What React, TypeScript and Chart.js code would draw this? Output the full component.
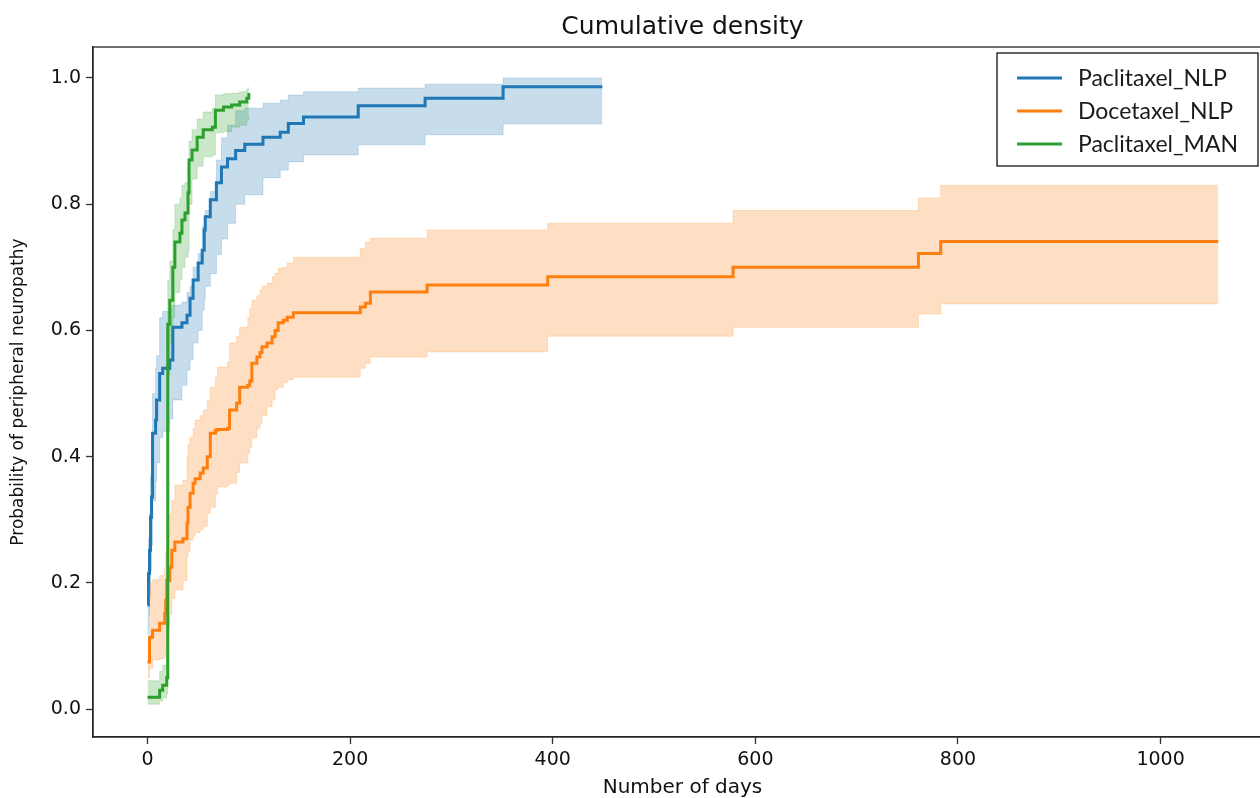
import React, { useEffect, useRef } from "react";
import { Chart, registerables } from "chart.js";

Chart.register(...registerables);

const TITLE = "Cumulative density";
const X_TITLE = "Number of days";
const Y_TITLE = "Probability of peripheral neuropathy";
const X_TICKS = [0, 200, 400, 600, 800, 1000];
const Y_TICKS = [0, 0.2, 0.4, 0.6, 0.8, 1.0];
const SERIES_NAMES = ["Paclitaxel_NLP", "Docetaxel_NLP", "Paclitaxel_MAN"];
const COLORS = ["#1f77b4", "#ff7f0e", "#2ca02c"];

// Paclitaxel_NLP (blue)
const blueDays = [0, 1, 2, 3, 4, 5, 8, 9, 12, 15, 22, 25, 34, 39, 42, 45, 50, 54, 56, 57, 62, 68, 73, 79, 87, 96, 114, 131, 139, 154, 208, 274, 351, 449];
const blueLine = [0.165, 0.215, 0.252, 0.304, 0.336, 0.437, 0.458, 0.49, 0.532, 0.54, 0.553, 0.605, 0.612, 0.624, 0.651, 0.68, 0.707, 0.727, 0.759, 0.78, 0.807, 0.834, 0.859, 0.872, 0.885, 0.895, 0.906, 0.914, 0.928, 0.938, 0.956, 0.968, 0.986, 0.986];
const blueLower = [0.12, 0.15, 0.18, 0.22, 0.26, 0.33, 0.36, 0.39, 0.43, 0.44, 0.46, 0.49, 0.513, 0.537, 0.553, 0.58, 0.6, 0.632, 0.65, 0.67, 0.69, 0.72, 0.745, 0.77, 0.8, 0.815, 0.842, 0.854, 0.867, 0.878, 0.894, 0.91, 0.927, 0.927];
const blueUpper = [0.22, 0.27, 0.31, 0.37, 0.4, 0.5, 0.54, 0.56, 0.62, 0.63, 0.635, 0.64, 0.645, 0.66, 0.67, 0.7, 0.722, 0.764, 0.78, 0.79, 0.82, 0.87, 0.905, 0.925, 0.948, 0.952, 0.96, 0.965, 0.973, 0.978, 0.984, 0.99, 1.0, 1.0];

// Docetaxel_NLP (orange)
const orangeDays = [0, 2, 5, 12, 17, 18, 19, 22, 24, 27, 35, 39, 40, 42, 45, 47, 52, 55, 59, 62, 67, 69, 79, 81, 88, 91, 99, 101, 103, 108, 111, 113, 118, 123, 126, 129, 134, 138, 144, 210, 215, 220, 276, 395, 578, 761, 783, 1057];
const orangeLine = [0.075, 0.114, 0.125, 0.136, 0.152, 0.173, 0.204, 0.225, 0.252, 0.265, 0.27, 0.295, 0.32, 0.342, 0.358, 0.365, 0.374, 0.382, 0.4, 0.437, 0.442, 0.443, 0.445, 0.474, 0.485, 0.51, 0.513, 0.52, 0.548, 0.558, 0.565, 0.574, 0.58, 0.59, 0.6, 0.612, 0.616, 0.621, 0.628, 0.637, 0.643, 0.661, 0.672, 0.685, 0.7, 0.722, 0.741, 0.741];
const orangeLower = [0.05, 0.065, 0.078, 0.08, 0.083, 0.1, 0.13, 0.15, 0.175, 0.189, 0.204, 0.241, 0.25, 0.268, 0.275, 0.28, 0.284, 0.29, 0.31, 0.32, 0.34, 0.352, 0.355, 0.358, 0.375, 0.39, 0.405, 0.415, 0.43, 0.445, 0.453, 0.465, 0.479, 0.49, 0.506, 0.51, 0.517, 0.522, 0.526, 0.54, 0.548, 0.558, 0.566, 0.591, 0.605, 0.626, 0.642, 0.642];
const orangeUpper = [0.11, 0.2, 0.205, 0.212, 0.225, 0.25, 0.28, 0.31, 0.331, 0.355, 0.363, 0.4, 0.42, 0.431, 0.445, 0.458, 0.465, 0.474, 0.49, 0.51, 0.526, 0.542, 0.55, 0.58, 0.59, 0.605, 0.62, 0.635, 0.648, 0.655, 0.664, 0.67, 0.675, 0.685, 0.691, 0.699, 0.7, 0.707, 0.716, 0.73, 0.74, 0.746, 0.759, 0.77, 0.79, 0.81, 0.83, 0.83];

// Paclitaxel_MAN (green)
const greenDays = [0, 12, 15, 19, 20, 22, 25, 27, 32, 34, 37, 40, 41, 44, 49, 55, 64, 67, 75, 83, 91, 98, 100];
const greenLine = [0.019, 0.03, 0.038, 0.05, 0.61, 0.648, 0.7, 0.74, 0.754, 0.775, 0.786, 0.818, 0.87, 0.886, 0.906, 0.918, 0.922, 0.949, 0.954, 0.957, 0.962, 0.968, 0.976];
const greenLower = [0.008, 0.013, 0.018, 0.025, 0.53, 0.58, 0.62, 0.66, 0.68, 0.7, 0.716, 0.724, 0.8, 0.84, 0.86, 0.875, 0.878, 0.913, 0.915, 0.922, 0.925, 0.933, 0.94];
const greenUpper = [0.045, 0.06, 0.07, 0.085, 0.68, 0.71, 0.76, 0.8, 0.81, 0.83, 0.834, 0.86, 0.9, 0.918, 0.935, 0.946, 0.952, 0.973, 0.975, 0.976, 0.978, 0.982, 0.986];

const X_MIN = -53.8;
const X_MAX = 1110;
const Y_MIN = -0.044;
const Y_MAX = 1.049;

function pts(days: number[], vals: number[]) {
  return days.map((d, i) => ({ x: d, y: vals[i] }));
}

function rgba(hex: string, a: number) {
  const n = parseInt(hex.slice(1), 16);
  return `rgba(${(n >> 16) & 255},${(n >> 8) & 255},${n & 255},${a})`;
}

const framePlugin = {
  id: "frame",
  afterDatasetsDraw(chart: any) {
    const { ctx, chartArea: a } = chart;
    ctx.save();
    ctx.strokeStyle = "#262626";
    ctx.lineWidth = 1.3;
    ctx.strokeRect(a.left, a.top, a.right - a.left, a.bottom - a.top);
    ctx.restore();
  },
};

const titlePlugin = {
  id: "axesTitle",
  afterDraw(chart: any) {
    const { ctx, chartArea: a } = chart;
    ctx.save();
    ctx.font = "25px 'DejaVu Sans'";
    ctx.fillStyle = "#111";
    ctx.textAlign = "center";
    ctx.textBaseline = "middle";
    ctx.fillText(TITLE, (a.left + a.right) / 2, a.top - 20);
    ctx.restore();
  },
};

const legendPlugin = {
  id: "boxLegend",
  afterDraw(chart: any) {
    const { ctx, chartArea: a } = chart;
    const x = a.right - 275;
    const y = a.top + 6;
    const w = 261;
    const h = 113;
    ctx.save();
    ctx.fillStyle = "#ffffff";
    ctx.fillRect(x, y, w, h);
    ctx.strokeStyle = "#111";
    ctx.lineWidth = 1.3;
    ctx.strokeRect(x, y, w, h);
    ctx.font = "23px Lato";
    ctx.textBaseline = "middle";
    ctx.textAlign = "left";
    SERIES_NAMES.forEach((name, i) => {
      const ry = y + 25 + i * 33;
      ctx.strokeStyle = COLORS[i];
      ctx.lineWidth = 3;
      ctx.beginPath();
      ctx.moveTo(x + 20, ry);
      ctx.lineTo(x + 65, ry);
      ctx.stroke();
      ctx.fillStyle = "#1a1a1a";
      ctx.fillText(name, x + 81, ry + 1);
    });
    ctx.restore();
  },
};

export default function App() {
  const canvasRef = useRef<HTMLCanvasElement | null>(null);

  useEffect(() => {
    const canvas = canvasRef.current;
    if (!canvas) return;

    const groups = [
      { name: SERIES_NAMES[0], color: COLORS[0], days: blueDays, line: blueLine, lower: blueLower, upper: blueUpper },
      { name: SERIES_NAMES[1], color: COLORS[1], days: orangeDays, line: orangeLine, lower: orangeLower, upper: orangeUpper },
      { name: SERIES_NAMES[2], color: COLORS[2], days: greenDays, line: greenLine, lower: greenLower, upper: greenUpper },
    ];

    const datasets: any[] = [];
    groups.forEach((g, gi) => {
      const base = (2 - gi) * 3;
      datasets.push({
        label: g.name + " lower",
        data: pts(g.days, g.lower),
        borderColor: rgba(g.color, 0.2),
        borderWidth: 1,
        pointRadius: 0,
        fill: false,
        stepped: true,
        order: base + 2,
      });
      datasets.push({
        label: g.name + " upper",
        data: pts(g.days, g.upper),
        borderColor: rgba(g.color, 0.2),
        borderWidth: 1,
        backgroundColor: rgba(g.color, 0.25),
        pointRadius: 0,
        fill: "-1",
        stepped: true,
        order: base + 1,
      });
      datasets.push({
        label: g.name,
        data: pts(g.days, g.line),
        borderColor: g.color,
        borderWidth: 3,
        borderJoinStyle: "miter",
        pointRadius: 0,
        fill: false,
        stepped: true,
        order: base,
      });
    });

    const tickFont = { family: "DejaVu Sans", size: 19 };

    const chart = new Chart(canvas, {
      type: "line",
      data: { datasets },
      options: {
        responsive: false,
        animation: false,
        events: [],
        layout: { padding: { left: 0, right: 8, top: 47, bottom: 0 } },
        plugins: {
          legend: { display: false },
          tooltip: { enabled: false },
          title: { display: false },
        },
        scales: {
          x: {
            type: "linear",
            min: X_MIN,
            max: X_MAX,
            afterBuildTicks: (scale: any) => {
              scale.ticks = X_TICKS.map((v) => ({ value: v }));
            },
            afterFit: (scale: any) => {
              scale.height = 61;
            },
            ticks: {
              color: "#111",
              font: tickFont,
              padding: 5,
              maxRotation: 0,
              autoSkip: false,
              callback: (v: any) => String(v),
            },
            grid: {
              drawOnChartArea: false,
              drawTicks: true,
              tickLength: 7,
              color: "#333",
              tickColor: "#333",
              tickWidth: 1.3,
            },
            border: { display: true, color: "#262626", width: 1.3 },
            title: {
              display: true,
              text: X_TITLE,
              color: "#111",
              font: { family: "DejaVu Sans", size: 20, lineHeight: 1 },
              padding: { top: 0, bottom: 0 },
            },
          },
          y: {
            type: "linear",
            min: Y_MIN,
            max: Y_MAX,
            afterBuildTicks: (scale: any) => {
              scale.ticks = Y_TICKS.map((v) => ({ value: v }));
            },
            afterFit: (scale: any) => {
              scale.width = 93;
            },
            ticks: {
              color: "#111",
              font: tickFont,
              padding: 5,
              autoSkip: false,
              callback: (v: any) => Number(v).toFixed(1),
            },
            grid: {
              drawOnChartArea: false,
              drawTicks: true,
              tickLength: 7,
              color: "#333",
              tickColor: "#333",
              tickWidth: 1.3,
            },
            border: { display: true, color: "#262626", width: 1.3 },
            title: {
              display: true,
              text: Y_TITLE,
              color: "#111",
              font: { family: "DejaVu Sans", size: 17, lineHeight: 1.2 },
              padding: { top: 8, bottom: 0 },
            },
          },
        },
      },
      plugins: [framePlugin, titlePlugin, legendPlugin],
    } as any);

    return () => {
      chart.destroy();
    };
  }, []);

  return (
    <div
      style={{
        position: "absolute",
        left: 0,
        top: 0,
        width: 1260,
        height: 798,
        overflow: "hidden",
        background: "#fff",
      }}
    >
      <canvas ref={canvasRef} width={1280} height={798} style={{ display: "block", width: 1280, height: 798 }} />
    </div>
  );
}
